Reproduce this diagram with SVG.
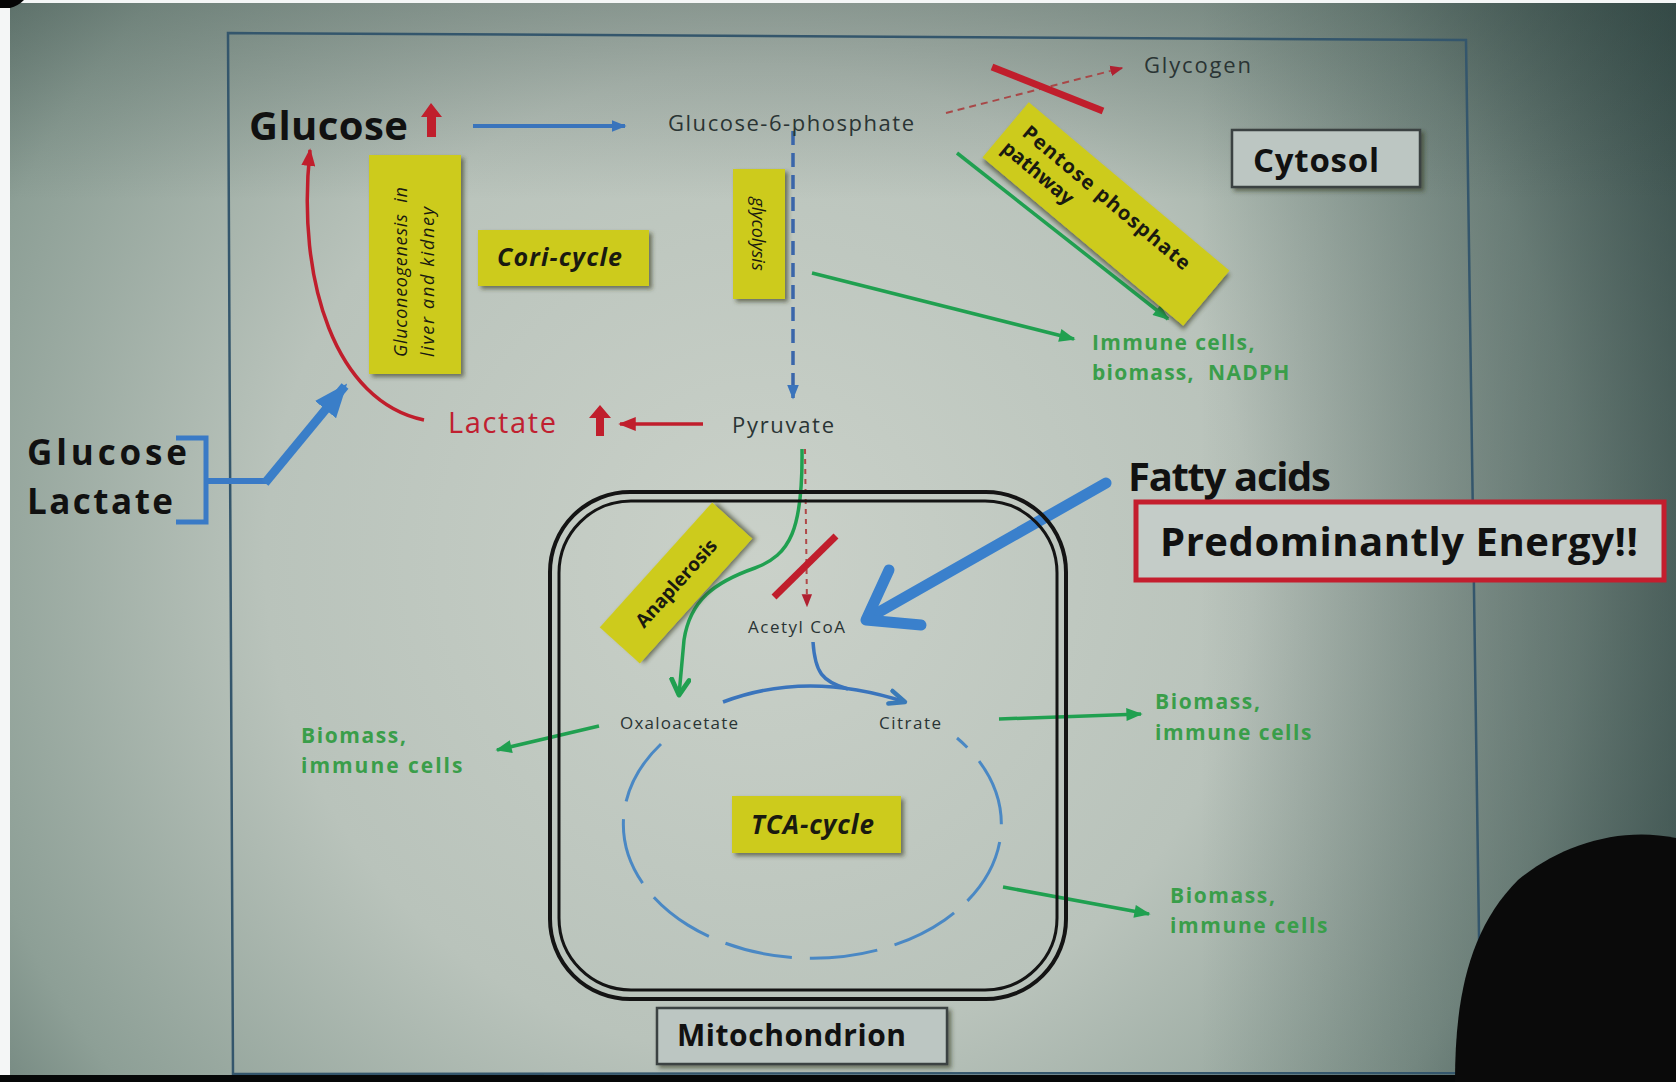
<svg xmlns="http://www.w3.org/2000/svg" width="1676" height="1082" viewBox="0 0 1676 1082">
<defs>
<radialGradient id="bg" cx="760" cy="560" r="1100" gradientUnits="userSpaceOnUse">
<stop offset="0" stop-color="#cad1c9"/>
<stop offset="0.45" stop-color="#b9c3bb"/>
<stop offset="0.75" stop-color="#8d9f96"/>
<stop offset="1" stop-color="#4c625c"/>
</radialGradient>
<linearGradient id="rdark" x1="1200" y1="0" x2="1676" y2="0" gradientUnits="userSpaceOnUse">
<stop offset="0" stop-color="#1e3434" stop-opacity="0"/>
<stop offset="1" stop-color="#1e3434" stop-opacity="0.5"/>
</linearGradient>
<linearGradient id="tdark" x1="0" y1="0" x2="0" y2="200" gradientUnits="userSpaceOnUse">
<stop offset="0" stop-color="#2a3e3a" stop-opacity="0.3"/>
<stop offset="1" stop-color="#2a3e3a" stop-opacity="0"/>
</linearGradient>
<filter id="sh" x="-10%" y="-10%" width="130%" height="130%">
<feDropShadow dx="3" dy="3" stdDeviation="2" flood-color="#303820" flood-opacity="0.6"/>
</filter>
<marker id="aBlue" viewBox="0 0 10 8" refX="9" refY="4" markerUnits="userSpaceOnUse" markerWidth="15" markerHeight="12" orient="auto"><path d="M0,0 L10,4 L0,8 z" fill="#3a74bc"/></marker>
<marker id="aBlueBig" viewBox="0 0 10 8" refX="9" refY="4" markerUnits="userSpaceOnUse" markerWidth="34" markerHeight="30" orient="auto"><path d="M0,0 L10,4 L0,8 z" fill="#3a7ec8"/></marker>
<marker id="aRed" viewBox="0 0 10 8" refX="9" refY="4" markerUnits="userSpaceOnUse" markerWidth="18" markerHeight="14" orient="auto"><path d="M0,0 L10,4 L0,8 z" fill="#c01e2c"/></marker>
<marker id="aRedS" viewBox="0 0 10 8" refX="9" refY="4" markerUnits="userSpaceOnUse" markerWidth="13" markerHeight="12" orient="auto"><path d="M0,0 L10,4 L0,8 z" fill="#b02030"/></marker>
<marker id="aGreen" viewBox="0 0 10 8" refX="9" refY="4" markerUnits="userSpaceOnUse" markerWidth="17" markerHeight="13" orient="auto"><path d="M0,0 L10,4 L0,8 z" fill="#20a050"/></marker>
<marker id="aGreenV" viewBox="0 0 10 10" refX="8" refY="5" markerUnits="userSpaceOnUse" markerWidth="22" markerHeight="22" orient="auto"><path d="M1,1 L8,5 L1,9" fill="none" stroke="#20a050" stroke-width="2.2" stroke-linecap="round" stroke-linejoin="round"/></marker>
<marker id="aBlueV" viewBox="0 0 10 10" refX="8" refY="5" markerUnits="userSpaceOnUse" markerWidth="22" markerHeight="22" orient="auto"><path d="M1,2 L8,5 L1,8" fill="none" stroke="#3a7ab8" stroke-width="2" stroke-linecap="round" stroke-linejoin="round"/></marker>
</defs>
<style>
text{font-family:"Open Sans","Noto Sans","Liberation Sans",sans-serif}
.big{font-weight:700;fill:#111;font-size:40px}
.in{font-weight:700;fill:#111;font-size:35px}
.lbl{fill:#2a3434;font-size:22px}
.sm{fill:#2a3434;font-size:17px}
.grn{fill:#3a9e4a;font-size:21px;font-weight:700;letter-spacing:1.6px}
.yel{fill:#cdcb1e}
.yt{font-weight:700;font-style:italic;fill:#1a1a10}
.box{fill:#bcc6c2;stroke:#3a4242;stroke-width:2.5}
.g{fill:none;stroke:#20a050;stroke-width:3.5}
.r{fill:none;stroke:#c01e2c}
.b{fill:none;stroke:#3a74bc}
</style>
<rect x="0" y="0" width="1676" height="1082" fill="url(#bg)"/>
<rect x="0" y="0" width="1676" height="1082" fill="url(#rdark)"/>
<rect x="0" y="0" width="1676" height="1082" fill="url(#tdark)"/>
<rect x="0" y="0" width="10" height="1075" fill="#f4f6f6"/>
<rect x="0" y="0" width="1676" height="3" fill="#f4f6f6"/>
<path d="M0 0 L24 0 Q18 6 10 8 L0 8 Z" fill="#050505"/>
<path d="M228 33 L1466 40 L1481 1073 L233 1074 Z" fill="none" stroke="#34566c" stroke-width="2.5"/>
<rect x="0" y="1075" width="1676" height="7" fill="#060808"/>
<path d="M1455 1082 C1455 1000 1468 930 1518 880 C1560 845 1620 826 1676 838 L1676 1082 Z" fill="#0a0a0a"/>

<g id="connectors">
<line x1="473" y1="126" x2="625" y2="126" class="b" stroke-width="4" marker-end="url(#aBlue)"/>
<line x1="946" y1="113" x2="1122" y2="68" stroke="#a84848" stroke-width="2" stroke-dasharray="7 5" marker-end="url(#aRedS)"/>
<line x1="992" y1="67" x2="1103" y2="111" class="r" stroke-width="7"/>
<line x1="957" y1="153" x2="1168" y2="319" class="g" marker-end="url(#aGreen)"/>
<line x1="793" y1="131" x2="793" y2="398" stroke="#3a66aa" stroke-width="3.5" stroke-dasharray="14 8" marker-end="url(#aBlue)"/>
<line x1="812" y1="273" x2="1074" y2="339" class="g" marker-end="url(#aGreen)"/>
<path d="M424 420 C336 402 296 282 310 150" class="r" stroke-width="3.5" marker-end="url(#aRed)"/>
<line x1="703" y1="424" x2="620" y2="424" class="r" stroke-width="3.5" marker-end="url(#aRed)"/>
<path d="M176 438 L206 438 L206 522 L176 522" fill="none" stroke="#3a7ac6" stroke-width="5"/>
<path d="M206 481 L267 481" fill="none" stroke="#3a7ac6" stroke-width="6"/>
<line x1="265" y1="483" x2="345" y2="386" stroke="#3a7ec8" stroke-width="9" marker-end="url(#aBlueBig)"/>
<path d="M802 449 C803 530 790 555 755 568 C715 582 690 600 684 640 L679 695" class="g" stroke-width="3" marker-end="url(#aGreenV)"/>
<line x1="805" y1="449" x2="807" y2="606" stroke="#b04848" stroke-width="2" stroke-dasharray="5 5" marker-end="url(#aRedS)"/>
<line x1="774" y1="597" x2="836" y2="536" class="r" stroke-width="7"/>
<line x1="1106" y1="483" x2="872" y2="616" stroke="#3a80cc" stroke-width="11" stroke-linecap="round"/>
<polyline points="889,570 866,620 921,625" fill="none" stroke="#3a80cc" stroke-width="11" stroke-linecap="round" stroke-linejoin="round"/>
<path d="M723 702 Q807 670 905 702" class="b" stroke-width="3.5" marker-end="url(#aBlueV)"/>
<path d="M813 642 C815 672 822 682 848 689" class="b" stroke-width="3.5"/>
<path d="M661 744 A189 134 0 1 0 957 738" fill="none" stroke="#4a88c4" stroke-width="3" stroke-dasharray="68 18"/>
<line x1="599" y1="726" x2="497" y2="750" class="g" marker-end="url(#aGreen)"/>
<line x1="999" y1="719" x2="1141" y2="714" class="g" marker-end="url(#aGreen)"/>
<line x1="1003" y1="887" x2="1149" y2="914" class="g" marker-end="url(#aGreen)"/>
</g>

<g id="glucose">
<text x="249" y="140" class="big" textLength="159">Glucose</text>
<path d="M427 137 L427 117 L421 117 L431 103 L442 117 L436 117 L436 137 Z" fill="#c01e2c"/>
</g>
<g id="g6p"><text x="668" y="131" class="lbl" textLength="246">Glucose-6-phosphate</text></g>
<g id="glycogen"><text x="1144" y="73" class="lbl" textLength="107">Glycogen</text></g>
<g id="pentose" transform="translate(1106,214) rotate(40)">
<rect x="-131" y="-36" width="262" height="72" class="yel" filter="url(#sh)"/>
<text x="-116" y="-6" font-size="20" font-weight="700" fill="#1a1a10" textLength="212">Pentose phosphate</text>
<text x="-122" y="19" font-size="20" font-weight="700" fill="#1a1a10">pathway</text>
</g>
<g id="cytosol">
<rect x="1232" y="130" width="188" height="57" class="box" filter="url(#sh)"/>
<text x="1253" y="172" font-size="33" font-weight="700" fill="#111" textLength="126">Cytosol</text>
</g>
<g id="glycolysis">
<rect x="733" y="169" width="52" height="130" class="yel" filter="url(#sh)"/>
<text transform="translate(752,234) rotate(90)" text-anchor="middle" font-size="18" font-style="italic" fill="#1a1a10">glycolysis</text>
</g>
<g id="immune1">
<text x="1092" y="350" class="grn" textLength="164">Immune cells,</text>
<text x="1092" y="380" class="grn" xml:space="preserve" textLength="199">biomass,  NADPH</text>
</g>
<g id="gluconeogenesis">
<rect x="369" y="155" width="92" height="219" class="yel" filter="url(#sh)"/>
<text transform="translate(407,357) rotate(-90)" font-size="18" font-style="italic" fill="#1a1a10" xml:space="preserve" textLength="170">Gluconeogenesis  in</text>
<text transform="translate(434,357) rotate(-90)" font-size="18" font-style="italic" fill="#1a1a10" textLength="150">liver and kidney</text>
</g>
<g id="cori">
<rect x="478" y="230" width="171" height="56" class="yel" filter="url(#sh)"/>
<text x="497" y="266" class="yt" font-size="25" textLength="125">Cori-cycle</text>
</g>
<g id="lactate">
<text x="448" y="433" font-size="29" fill="#c02030" textLength="108">Lactate</text>
<path d="M596 436 L596 418 L589 418 L600 405 L611 418 L604 418 L604 436 Z" fill="#c01e2c"/>
</g>
<g id="pyruvate"><text x="732" y="433" class="lbl" textLength="102">Pyruvate</text></g>
<g id="input">
<text x="27" y="465" class="in" textLength="160">Glucose</text>
<text x="27" y="514" class="in" textLength="146">Lactate</text>
</g>
<g id="mitochondrion">
<rect x="550" y="492" width="516" height="507" rx="80" fill="none" stroke="#141414" stroke-width="4"/>
<rect x="559" y="501" width="498" height="489" rx="72" fill="none" stroke="#141414" stroke-width="3"/>
</g>
<g id="anaplerosis" transform="translate(676,583) rotate(-48)">
<rect x="-84" y="-27" width="168" height="54" class="yel" filter="url(#sh)"/>
<text x="0" y="7" text-anchor="middle" font-size="19" font-weight="700" fill="#1a1a10">Anaplerosis</text>
</g>
<g id="acetylcoa"><text x="748" y="633" class="sm" textLength="97">Acetyl CoA</text></g>
<g id="fatty"><text x="1128" y="491" class="big" textLength="203">Fatty acids</text></g>
<g id="energy">
<rect x="1136" y="502" width="528" height="78" fill="#c4ccc8" stroke="#c41e2e" stroke-width="5"/>
<text x="1160" y="556" class="big" textLength="478">Predominantly Energy!!</text>
</g>
<g id="oxaloacetate"><text x="620" y="729" class="sm" textLength="118">Oxaloacetate</text></g>
<g id="citrate"><text x="879" y="729" class="sm" textLength="62">Citrate</text></g>
<g id="tca">
<rect x="732" y="796" width="169" height="57" class="yel" filter="url(#sh)"/>
<text x="751" y="834" class="yt" font-size="26" textLength="123">TCA-cycle</text>
</g>
<g id="biomassL">
<text x="301" y="743" class="grn">Biomass,</text>
<text x="301" y="773" class="grn" textLength="163">immune cells</text>
</g>
<g id="biomassR1">
<text x="1155" y="709" class="grn">Biomass,</text>
<text x="1155" y="740" class="grn" textLength="158">immune cells</text>
</g>
<g id="biomassR2">
<text x="1170" y="903" class="grn">Biomass,</text>
<text x="1170" y="933" class="grn" textLength="159">immune cells</text>
</g>
<g id="mitolabel">
<rect x="657" y="1008" width="290" height="56" class="box" filter="url(#sh)"/>
<text x="677" y="1046" font-size="30" font-weight="700" fill="#111" textLength="229">Mitochondrion</text>
</g>
</svg>
